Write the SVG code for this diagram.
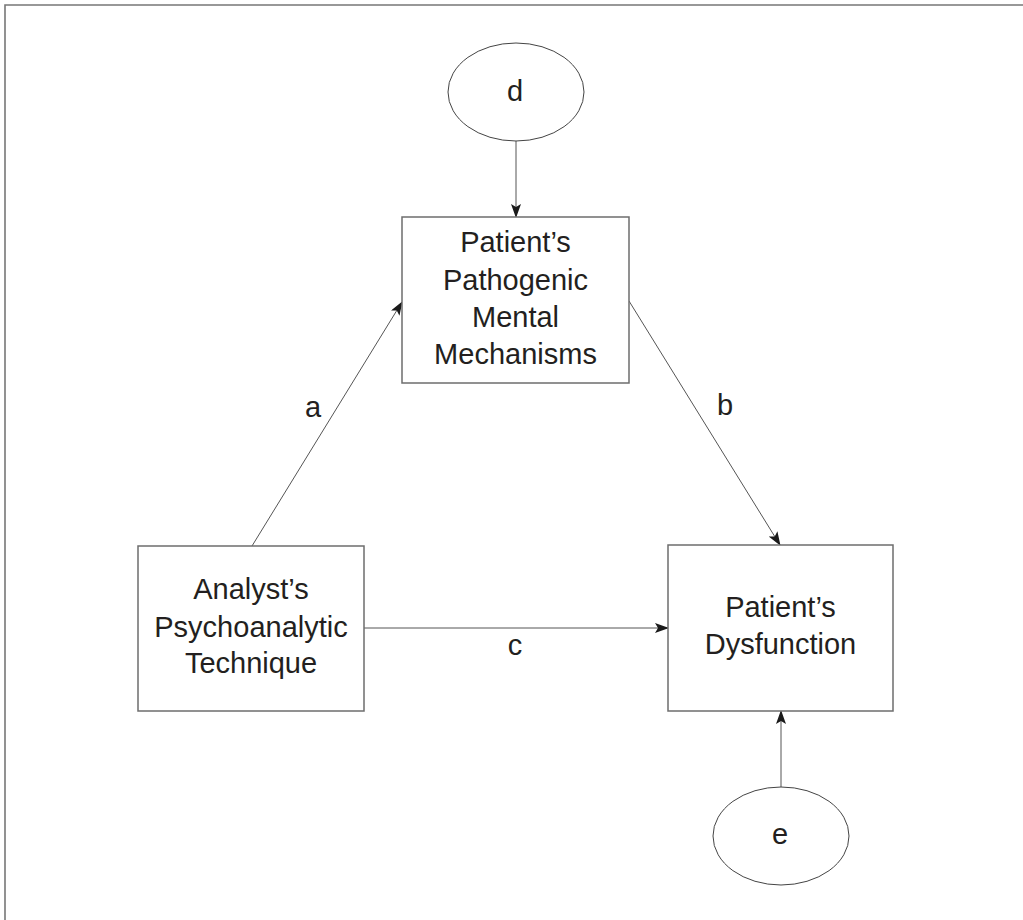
<svg xmlns="http://www.w3.org/2000/svg" width="1023" height="920" viewBox="0 0 1023 920">
<style>
.frame{stroke:#777;stroke-width:1.6;fill:none}
.box{fill:#fff;stroke:#6d6d6d;stroke-width:1.5}
.ell{fill:#fff;stroke:#444;stroke-width:1}
.conn{stroke:#555;stroke-width:1;fill:none;marker-end:url(#ah)}
text{font-family:"Liberation Sans",Arial,sans-serif;font-size:29px;fill:#231f20;text-anchor:middle}
</style>
<defs>
<marker id="ah" markerUnits="userSpaceOnUse" markerWidth="14" markerHeight="10" viewBox="0 0 14 10" refX="13" refY="5" orient="auto">
<path d="M0,0 L14,5 L0,10 L3,5 z" fill="#1a1a1a"/>
</marker>
</defs>
<rect width="1023" height="920" fill="#fff"/>
<g id="frame">
<path class="frame" d="M5,920 L5,5 L1023,5"/>
</g>
<g id="connectors">
<line class="conn" x1="252" y1="546" x2="402" y2="302"/>
<line class="conn" x1="629" y1="301" x2="780" y2="545"/>
<line class="conn" x1="364" y1="628" x2="668" y2="628"/>
<line class="conn" x1="516" y1="141" x2="516" y2="217"/>
<line class="conn" x1="781" y1="787" x2="781" y2="711"/>
<text x="313" y="417">a</text>
<text x="725" y="415">b</text>
<text x="515" y="655">c</text>
</g>
<g id="node-d">
<ellipse class="ell" cx="516" cy="92" rx="68" ry="49"/>
<text x="515" y="101">d</text>
</g>
<g id="node-mechanisms">
<rect class="box" x="402" y="217" width="227" height="166"/>
<text x="515.5" y="252">Patient’s</text>
<text x="515.5" y="290">Pathogenic</text>
<text x="515.5" y="327">Mental</text>
<text x="515.5" y="364">Mechanisms</text>
</g>
<g id="node-technique">
<rect class="box" x="138" y="546" width="226" height="165"/>
<text x="251" y="599">Analyst’s</text>
<text x="251" y="637">Psychoanalytic</text>
<text x="251" y="673">Technique</text>
</g>
<g id="node-dysfunction">
<rect class="box" x="668" y="545" width="225" height="166"/>
<text x="780.5" y="617">Patient’s</text>
<text x="780.5" y="654">Dysfunction</text>
</g>
<g id="node-e">
<ellipse class="ell" cx="781" cy="836" rx="68" ry="49"/>
<text x="780" y="844">e</text>
</g>
</svg>
